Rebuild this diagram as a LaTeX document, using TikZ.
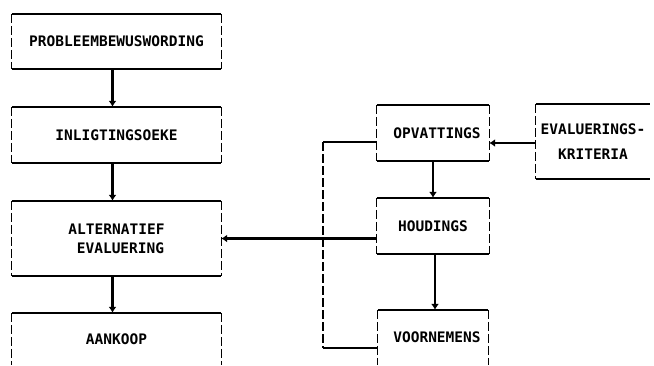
\documentclass[tikz,border=0pt]{standalone}
\usepackage{fontspec}
\newfontfamily\dotfont{DejaVu Sans Mono}
\usetikzlibrary{arrows.meta}
\begin{document}
\begin{tikzpicture}[x=1pt,y=-1pt,
  hline/.style={line width=2.4pt},
  vline/.style={line width=1.3pt,dash pattern=on 9pt off 3pt},
  arr/.style={line width=2.2pt,-{Latex[length=6pt,width=8pt]}},
  boxnode/.style={inner sep=0pt,font=\dotfont\bfseries\fontsize{14.5}{19}\selectfont,align=center},
]
\useasboundingbox (0,0) rectangle (654,365);
% left column
\node[boxnode,minimum width=209pt,minimum height=55pt] (b1) at (116.5,41.5) {PROBLEEMBEWUSWORDING};
\node[boxnode,minimum width=209pt,minimum height=56pt] (b2) at (116.5,135) {INLIGTINGSOEKE};
\node[boxnode,minimum width=209pt,minimum height=75pt] (b3) at (116.5,238.5) {ALTERNATIEF\\\hspace*{8pt}EVALUERING};
\node[boxnode,minimum width=209pt,minimum height=52pt] (b4) at (116.5,339) {AANKOOP};
% right column
\node[boxnode,minimum width=112pt,minimum height=56pt] (o) at (433,133) {\hspace*{8pt}OPVATTINGS};
\node[boxnode,minimum width=112pt,minimum height=56pt] (h) at (433,226) {HOUDINGS};
\node[boxnode,minimum width=110pt,minimum height=55pt] (v) at (433,337.5) {\hspace*{8pt}VOORNEMENS};
\node[boxnode,minimum width=114pt,minimum height=75pt,font=\dotfont\bfseries\fontsize{14.5}{25}\selectfont] (e) at (593,141.5) {EVALUERINGS-\\KRITERIA};
% box borders: solid horizontals, dashed verticals
\foreach \n in {b1,b2,b3,o,h}{
  \draw[hline] (\n.north west) -- (\n.north east);
  \draw[hline] (\n.south west) -- (\n.south east);
  \draw[vline] (\n.north west) -- (\n.south west);
  \draw[vline] (\n.north east) -- (\n.south east);
}
\foreach \n in {b4,v}{
  \draw[hline] (\n.north west) -- (\n.north east);
  \draw[vline] (\n.north west) -- (\n.south west);
  \draw[vline] (\n.north east) -- (\n.south east);
}
\draw[hline] (e.north west) -- (e.north east);
\draw[hline] (e.south west) -- (e.south east);
\draw[vline] (e.north west) -- (e.south west);
% connectors
\draw[arr] ([xshift=-4pt]b1.south) -- ([xshift=-4pt]b2.north);
\draw[arr] ([xshift=-4pt]b2.south) -- ([xshift=-4pt]b3.north);
\draw[arr] ([xshift=-4pt]b3.south) -- ([xshift=-4pt]b4.north);
\draw[arr] (o.south) -- (h.north);
\draw[arr] ([xshift=2pt]h.south) -- ([xshift=2pt]v.north);
\draw[arr] ([yshift=-1.5pt]e.west) -- ([yshift=-1.5pt]e.west -| o.east);
\draw[arr] (b3.east -| h.west) -- (b3.east);
% bracket
\coordinate (bt) at (323,142);
\coordinate (bb) at (323,348);
\draw[hline] (bt -| o.west) -- (bt);
\draw[vline] (bt) -- (bb);
\draw[hline] (bb) -- (bb -| v.west);
\end{tikzpicture}
\end{document}
